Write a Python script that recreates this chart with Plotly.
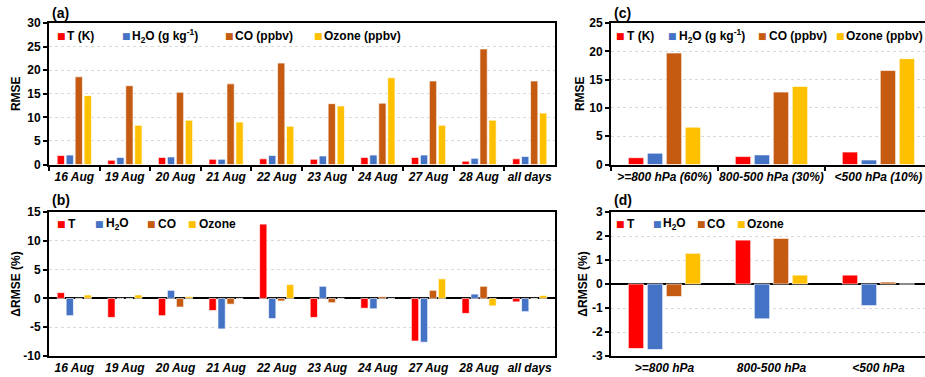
import plotly.graph_objects as go

# ---------------- data ----------------
dates = ["16 Aug", "19 Aug", "20 Aug", "21 Aug", "22 Aug", "23 Aug", "24 Aug", "27 Aug", "28 Aug", "all days"]
rmse_T = [1.9, 0.9, 1.5, 1.1, 1.2, 1.1, 1.5, 1.5, 0.7, 1.2]
rmse_H2O = [2.0, 1.5, 1.6, 1.1, 1.9, 1.8, 2.0, 2.0, 1.3, 1.7]
rmse_CO = [18.6, 16.7, 15.3, 17.1, 21.5, 12.9, 13.0, 17.7, 24.5, 17.7]
rmse_O3 = [14.6, 8.3, 9.4, 9.0, 8.1, 12.4, 18.4, 8.3, 9.4, 10.9]

drmse_T = [1.0, -3.3, -3.0, -2.1, 12.9, -3.3, -1.7, -7.4, -2.6, -0.6]
drmse_H2O = [-3.0, 0.0, 1.4, -5.3, -3.5, 2.1, -1.8, -7.6, 0.75, -2.3]
drmse_CO = [0.0, 0.0, -1.5, -1.0, -0.45, -0.75, 0.3, 1.4, 2.1, 0.0]
drmse_O3 = [0.6, 0.6, 0.3, 0.0, 2.4, 0.0, 0.0, 3.4, -1.3, 0.5]

levels_c = ["&gt;=800 hPa (60%)", "800-500 hPa (30%)", "&lt;500 hPa (10%)"]
lev_rmse_T = [1.2, 1.4, 2.2]
lev_rmse_H2O = [2.0, 1.7, 0.8]
lev_rmse_CO = [19.7, 12.8, 16.6]
lev_rmse_O3 = [6.6, 13.8, 18.7]

levels_d = ["&gt;=800 hPa", "800-500 hPa", "&lt;500 hPa"]
lev_drmse_T = [-2.69, 1.83, 0.37]
lev_drmse_H2O = [-2.73, -1.45, -0.9]
lev_drmse_CO = [-0.52, 1.90, 0.08]
lev_drmse_O3 = [1.28, 0.37, 0.0]

series_names = ["T", "H2O", "CO", "Ozone"]
colors = ["#FF0000", "#4472C4", "#C55A11", "#FFC000"]
legend_labels_rmse = ["T (K)", "H<sub>2</sub>O (g kg<sup>-1</sup>)", "CO (ppbv)", "Ozone (ppbv)"]
legend_labels_delta = ["T", "H<sub>2</sub>O", "CO", "Ozone"]

yticks_a = [0, 5, 10, 15, 20, 25, 30]
yticks_b = [-10, -5, 0, 5, 10, 15]
yticks_c = [0, 5, 10, 15, 20, 25]
yticks_d = [-3, -2, -1, 0, 1, 2, 3]

# ---------------- figure ----------------
W, H = 925, 377
FONT = "Liberation Sans"


def px_x(p):
    return p / W


def px_y(p):
    return (H - p) / H


fig = go.Figure()

panels = [
    (dates, [rmse_T, rmse_H2O, rmse_CO, rmse_O3], "x", "y"),
    (dates, [drmse_T, drmse_H2O, drmse_CO, drmse_O3], "x2", "y2"),
    (levels_c, [lev_rmse_T, lev_rmse_H2O, lev_rmse_CO, lev_rmse_O3], "x3", "y3"),
    (levels_d, [lev_drmse_T, lev_drmse_H2O, lev_drmse_CO, lev_drmse_O3], "x4", "y4"),
]
for cats, vals_list, xa, ya in panels:
    for name, vals, col in zip(series_names, vals_list, colors):
        fig.add_trace(go.Bar(
            x=cats, y=vals, name=name, xaxis=xa, yaxis=ya, showlegend=False,
            marker=dict(color=col, line=dict(color="rgba(255,255,255,0.65)", width=1)),
        ))

tickfont = dict(family=FONT, size=12, color="black", weight="bold")
xtickfont = dict(family=FONT, size=12, color="black", weight="bold", style="italic")

common_x = dict(type="category", showline=True, linecolor="black", linewidth=2,
                tickfont=xtickfont, showgrid=False, tickangle=0, automargin=False)
common_y = dict(showline=True, linecolor="black", linewidth=2, ticks="outside",
                ticklen=4, tickwidth=1.5, tickcolor="black", tickfont=tickfont,
                showgrid=True, gridcolor="#d9d9d9", griddash="dot", gridwidth=1,
                automargin=False)

dom_left = [px_x(49), px_x(555)]
dom_right = [px_x(611), 1.0]
dom_top = [px_y(164.5), px_y(23)]
dom_bot = [px_y(356), px_y(212)]

title_font = dict(family=FONT, size=12, color="black", weight="bold")

fig.update_layout(
    width=W, height=H,
    margin=dict(l=0, r=0, t=0, b=0, autoexpand=False),
    paper_bgcolor="white", plot_bgcolor="white",
    barmode="group", bargap=0.29, bargroupgap=0.19,
    showlegend=False,
    xaxis=dict(common_x, domain=dom_left, anchor="y", mirror=True,
               ticks="outside", tickson="boundaries", ticklen=4, tickwidth=1.5, tickcolor="black"),
    yaxis=dict(common_y, domain=dom_top, anchor="x", range=[0, 30], mirror=True,
               tickvals=yticks_a, ticktext=[str(v) for v in yticks_a],
               title=dict(text="RMSE", font=title_font, standoff=4)),
    xaxis2=dict(common_x, domain=dom_left, anchor="y2", mirror=True, ticks=""),
    yaxis2=dict(common_y, domain=dom_bot, anchor="x2", range=[-10, 15], mirror=True,
                zeroline=True, zerolinecolor="black", zerolinewidth=2,
                tickvals=yticks_b, ticktext=[str(v) for v in yticks_b],
                title=dict(text="ΔRMSE (%)", font=title_font, standoff=0)),
    xaxis3=dict(common_x, domain=dom_right, anchor="y3", mirror=True, range=[-0.5, 2.435],
                ticks="outside", tickson="boundaries", ticklen=4, tickwidth=1.5, tickcolor="black"),
    yaxis3=dict(common_y, domain=dom_top, anchor="x3", range=[0, 25], mirror=False,
                tickvals=yticks_c, ticktext=[str(v) for v in yticks_c],
                title=dict(text="RMSE", font=title_font, standoff=2)),
    xaxis4=dict(common_x, domain=dom_right, anchor="y4", mirror=True, range=[-0.5, 2.435], ticks=""),
    yaxis4=dict(common_y, domain=dom_bot, anchor="x4", range=[-3, 3], mirror=False,
                zeroline=True, zerolinecolor="black", zerolinewidth=2,
                tickvals=yticks_d, ticktext=[str(v) for v in yticks_d],
                title=dict(text="ΔRMSE (%)", font=title_font, standoff=2)),
)

annotations = []
# panel labels
for label, xp, yp in [("(a)", 52, 13), ("(b)", 52, 200), ("(c)", 614, 13), ("(d)", 614, 200)]:
    annotations.append(dict(text=label, x=px_x(xp), y=px_y(yp), xref="paper", yref="paper",
                            xanchor="left", yanchor="middle", showarrow=False,
                            font=dict(family=FONT, size=14, color="black", weight="bold"),
                            borderpad=0, borderwidth=0))

# legends (marker centre px, text start px) per panel
legend_layout = [
    (legend_labels_rmse, 36, [61.5, 126.5, 229.5, 318.5], [66.7, 132.3, 235, 324]),
    (legend_labels_delta, 224, [61.7, 99.3, 151.7, 192.3], [68.3, 106, 158.3, 199.3]),
    (legend_labels_rmse, 36, [620.5, 672.5, 762, 840], [627.3, 679.3, 769, 845.7]),
    (legend_labels_delta, 224, [620.5, 657.5, 701, 741], [627, 663.3, 707, 746.7]),
]
for labels, yc, mks, txs in legend_layout:
    for lab, col, mx, tx in zip(labels, colors, mks, txs):
        annotations.append(dict(text="■", x=px_x(mx), y=px_y(yc), xref="paper", yref="paper",
                                xanchor="center", yanchor="middle", showarrow=False,
                                font=dict(family="DejaVu Sans", size=9, color=col),
                                borderpad=0, borderwidth=0))
        annotations.append(dict(text=lab, x=px_x(tx), y=px_y(yc), xref="paper", yref="paper",
                                xanchor="left", yanchor="middle", showarrow=False,
                                font=dict(family=FONT, size=12, color="black", weight="bold"),
                                borderpad=0, borderwidth=0))
fig.update_layout(annotations=annotations)

fig.write_html("out.html", config={"displayModeBar": False},
               post_script="document.body.style.margin='0';document.body.style.overflow='hidden';")
